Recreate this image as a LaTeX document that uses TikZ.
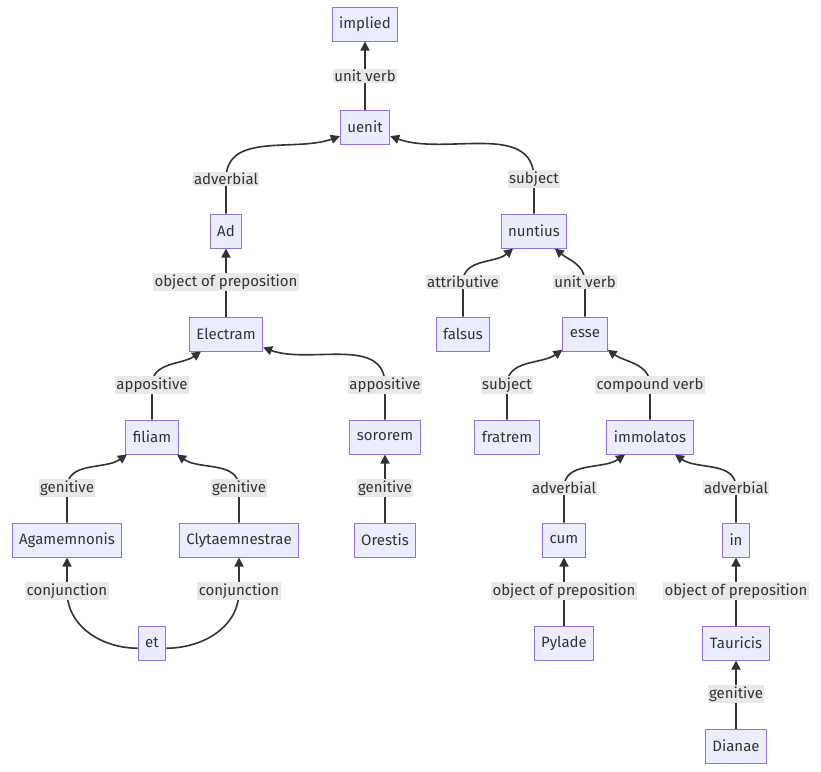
\documentclass[tikz,border=0pt]{standalone}
\usepackage{fontspec}
\setmainfont{Fira Sans}
\usetikzlibrary{arrows.meta}
\definecolor{boxfill}{HTML}{ECECFF}
\definecolor{boxline}{HTML}{9370DB}
\definecolor{ink}{HTML}{333333}
\definecolor{lblfill}{HTML}{E8E8E8}
\begin{document}
\begin{tikzpicture}[x=1pt,y=-1pt,font=\fontsize{15}{17}\selectfont,text=ink]
		\tikzstyle{word}=[draw=boxline,fill=boxfill,line width=1pt,minimum height=34pt,inner xsep=7pt,inner ysep=0pt]
		\tikzstyle{rel}=[fill=lblfill,inner sep=1.5pt]
		\tikzstyle{arr}=[draw=ink,line width=1.6pt,-{Triangle[length=9pt,width=9pt]}]
		\useasboundingbox (0,0) rectangle (821,771);
		
		\node[word](implied) at (365,24){implied};
		\node[word](uenit) at (365,127){uenit};
		\node[word](Ad) at (226,231){Ad};
		\node[word](nuntius) at (534,231){nuntius};
		\node[word](Electram) at (226,334){Electram};
		\node[word](falsus) at (463,334){falsus};
		\node[word](esse) at (585,334){esse};
		\node[word](filiam) at (152,437){filiam};
		\node[word](sororem) at (385,437){sororem};
		\node[word](fratrem) at (507,437){fratrem};
		\node[word](immolatos) at (650,437){immolatos};
		\node[word](Agamemnonis) at (67,540){Agamemnonis};
		\node[word](Clytaemnestrae) at (239,540){Clytaemnestrae};
		\node[word](Orestis) at (385,540){Orestis};
		\node[word](cum) at (564,540){cum};
		\node[word](in) at (736,540){in};
		\node[word](et) at (152,643){et};
		\node[word](Pylade) at (564,643){Pylade};
		\node[word](Tauricis) at (736,643){Tauricis};
		\node[word](Dianae) at (736,746){Dianae};
		
		% straight edges
		\draw[arr] (uenit) -- (implied);
		\draw[arr] (Electram) -- (Ad);
		\draw[arr] (Orestis) -- (sororem);
		\draw[arr] (Pylade) -- (cum);
		\draw[arr] (Tauricis) -- (in);
		\draw[arr] (Dianae) -- (Tauricis);
		
		% curved edges
		\draw[arr] (Ad.north) -- (226,179) to[out=90,in=200] (uenit.200);
		\draw[arr] (nuntius.north) -- (534,179) to[out=90,in=-20] (uenit.-20);
		\draw[arr] (falsus.north) -- (463,282) to[out=90,in=220] (nuntius.220);
		\draw[arr] (esse.north) -- (585,282) to[out=90,in=-40] (nuntius.-40);
		\draw[arr] (filiam.north) -- (152,385) to[out=90,in=215] (Electram.215);
		\draw[arr] (sororem.north) -- (385,385) to[out=90,in=-20] (Electram.-20);
		\draw[arr] (fratrem.north) -- (507,385) to[out=90,in=215] (esse.215);
		\draw[arr] (immolatos.north) -- (650,385) to[out=90,in=-35] (esse.-35);
		\draw[arr] (Agamemnonis.north) -- (67,488) to[out=90,in=215] (filiam.215);
		\draw[arr] (Clytaemnestrae.north) -- (239,488) to[out=90,in=-35] (filiam.-35);
		\draw[arr] (cum.north) -- (564,488) to[out=90,in=215] (immolatos.215);
		\draw[arr] (in.north) -- (736,488) to[out=90,in=-35] (immolatos.-35);
		\draw[arr] (et.200) to[out=180,in=-90] (67,591) -- (Agamemnonis.south);
		\draw[arr] (et.-20) to[out=0,in=-90] (239,591) -- (Clytaemnestrae.south);
		
		% edge labels
		\node[rel](l1) at (365,76){unit verb};
		\node[rel](l2) at (226,179){adverbial};
		\node[rel](l3) at (534,179){subject};
		\node[rel](l4) at (226,282){object of preposition};
		\node[rel](l5) at (463,282){attributive};
		\node[rel](l6) at (585,282){unit verb};
		\node[rel](l7) at (152,385){appositive};
		\node[rel](l8) at (385,385){appositive};
		\node[rel](l9) at (507,385){subject};
		\node[rel](l10) at (650,385){compound verb};
		\node[rel](l11) at (67,488){genitive};
		\node[rel](l12) at (239,488){genitive};
		\node[rel](l13) at (385,488){genitive};
		\node[rel](l14) at (564,488){adverbial};
		\node[rel](l15) at (736,488){adverbial};
		\node[rel](l16) at (67,591){conjunction};
		\node[rel](l17) at (239,591){conjunction};
		\node[rel](l18) at (564,591){object of preposition};
		\node[rel](l19) at (736,591){object of preposition};
		\node[rel](l20) at (736,694){genitive};
\end{tikzpicture}
\end{document}
